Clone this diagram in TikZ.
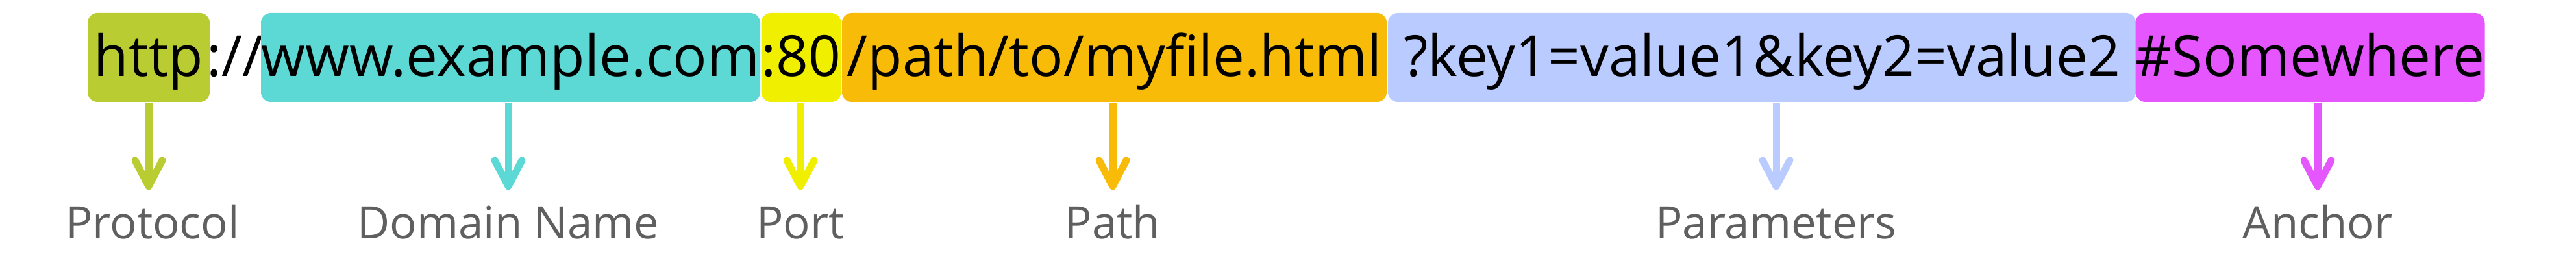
\documentclass[tikz,border=0pt]{standalone}
\usepackage{fontspec}
\setmainfont{Open Sans}
\usepackage{tikz}
\usetikzlibrary{arrows.meta}

\definecolor{protocolcol}{HTML}{B9CC32}
\definecolor{domaincol}{HTML}{5DD9D5}
\definecolor{portcol}{HTML}{F0EF00}
\definecolor{pathcol}{HTML}{F7BB08}
\definecolor{paramscol}{HTML}{BACBFF}
\definecolor{anchorcol}{HTML}{E556FF}
\definecolor{namegray}{HTML}{5F5F5F}

\newcommand{\urlpartfont}{\fontsize{24.8pt}{30pt}\selectfont}
\newcommand{\urlnamefont}{\fontsize{19.6pt}{24pt}\selectfont}

\begin{document}
\begin{tikzpicture}[
		part/.style={rounded corners=0.15cm, inner xsep=0pt, inner ysep=0pt,
			text height=0.98cm, text depth=0.39cm, anchor=base, font=\urlpartfont},
		tag/.style={anchor=base, font=\urlnamefont, text=namegray,
			text height=0.54cm, inner ysep=0.2cm},
		pointer/.style={draw=#1, line width=0.11cm,
			-{Straight Barb[length=0.4cm, width=0.42cm, round]}}]
		\useasboundingbox (0,0) rectangle (39.68,4.27);
		
		% the address
		\node[part, fill=protocolcol, minimum width=1.88cm] (protocol) at (2.29,3.09) {http};
		\node[anchor=base, font=\urlpartfont, inner sep=0pt] (slashes) at (3.62,3.09) {://};
		\node[part, fill=domaincol, minimum width=7.69cm] (domain) at (7.865,3.09) {www.example.com};
		\node[part, fill=portcol, minimum width=1.22cm] (port) at (12.34,3.09) {:80};
		\node[part, fill=pathcol, minimum width=8.39cm] (filepath) at (17.165,3.09) {/path/to/myfile.html};
		\node[part, fill=paramscol, minimum width=11.52cm] (params) at (27.14,3.09) {?key1=value1\&key2=value2};
		\node[part, fill=anchorcol, minimum width=5.33cm] (fragment) at (35.585,3.09) {\#Somewhere};
		
		% the names
		\node[tag] (protocol name) at (2.35,0.60) {Protocol};
		\node[tag] (domain name) at (7.83,0.60) {Domain Name};
		\node[tag] (port name) at (12.33,0.60) {Port};
		\node[tag] (filepath name) at (17.14,0.60) {Path};
		\node[tag] (params name) at (27.36,0.60) {Parameters};
		\node[tag] (fragment name) at (35.70,0.60) {Anchor};
		
		\draw[pointer=protocolcol] (protocol.south) -- (protocol.south |- protocol name.north);
		\draw[pointer=domaincol] (domain name.north |- domain.south) -- (domain name.north);
		\draw[pointer=portcol] (port name.north |- port.south) -- (port name.north);
		\draw[pointer=pathcol] (filepath name.north |- filepath.south) -- (filepath name.north);
		\draw[pointer=paramscol] (params name.north |- params.south) -- (params name.north);
		\draw[pointer=anchorcol] (fragment name.north |- fragment.south) -- (fragment name.north);
		
	\end{tikzpicture}
\end{document}
